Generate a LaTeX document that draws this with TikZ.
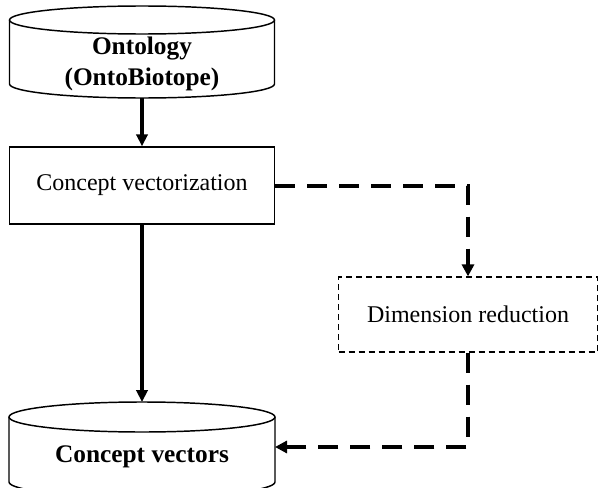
\documentclass[tikz,border=0pt]{standalone}
\usepackage{fontspec}
\setmainfont{Liberation Serif}
\usetikzlibrary{arrows.meta}
\begin{document}
\begin{tikzpicture}[x=0.75pt,y=0.75pt,
  flow/.style={line width=2.4pt,-{Triangle[length=9pt,width=8.5pt]}},
  dflow/.style={line width=3pt,dash pattern=on 15pt off 9pt,-{Triangle[length=9pt,width=9pt]}},
  store/.style={draw=black,line width=1.1pt,fill=white},
  boldlbl/.style={font=\fontsize{19}{23.25}\selectfont\bfseries,align=center,inner sep=0pt},
  plainlbl/.style={font=\fontsize{18}{21}\selectfont},
  procbox/.style={plainlbl,draw,line width=1.1pt,minimum width=198.75pt,minimum height=57.75pt,inner sep=0pt},
  optbox/.style={plainlbl,draw,line width=0.9pt,dash pattern=on 4.5pt off 3pt,minimum width=194.25pt,minimum height=56.25pt,inner sep=0pt}
]
\useasboundingbox (0,0) rectangle (600,487);
\clip (0,0) rectangle (600,487);

% ontology store (cylinder)
\draw[store] (9.5,467) -- (9.5,403) arc[start angle=180,end angle=360,x radius=132.5,y radius=14] -- (274.5,467);
\draw[store] (142,467) ellipse[x radius=132.5,y radius=14];
\node[boldlbl] (onto) at (142,423) {Ontology\\(OntoBiotope)};
\coordinate (onto-b) at (142,389);

% concept vectorization step
\node[procbox] (vec) at (142,301.5) {Concept vectorization};

% optional dimension reduction step
\node[optbox] (red) at (468,172.5) {Dimension reduction};

% concept vector store (cylinder, cut by the lower edge)
\draw[store] (9,70) -- (9,5) arc[start angle=180,end angle=360,x radius=133,y radius=15] -- (275,70);
\draw[store] (142,70) ellipse[x radius=133,y radius=15];
\node[boldlbl] (cv) at (142,30) {Concept vectors};
\coordinate (cv-top) at (142,85);
\coordinate (cv-east) at (275,40);

% connectors
\draw[flow] (onto-b) -- (vec.north);
\draw[flow] (vec.south) -- (cv-top);
\draw[dflow] (vec.east) -| (red.north);
\draw[dflow] (red.south) |- (cv-east);
\end{tikzpicture}
\end{document}
